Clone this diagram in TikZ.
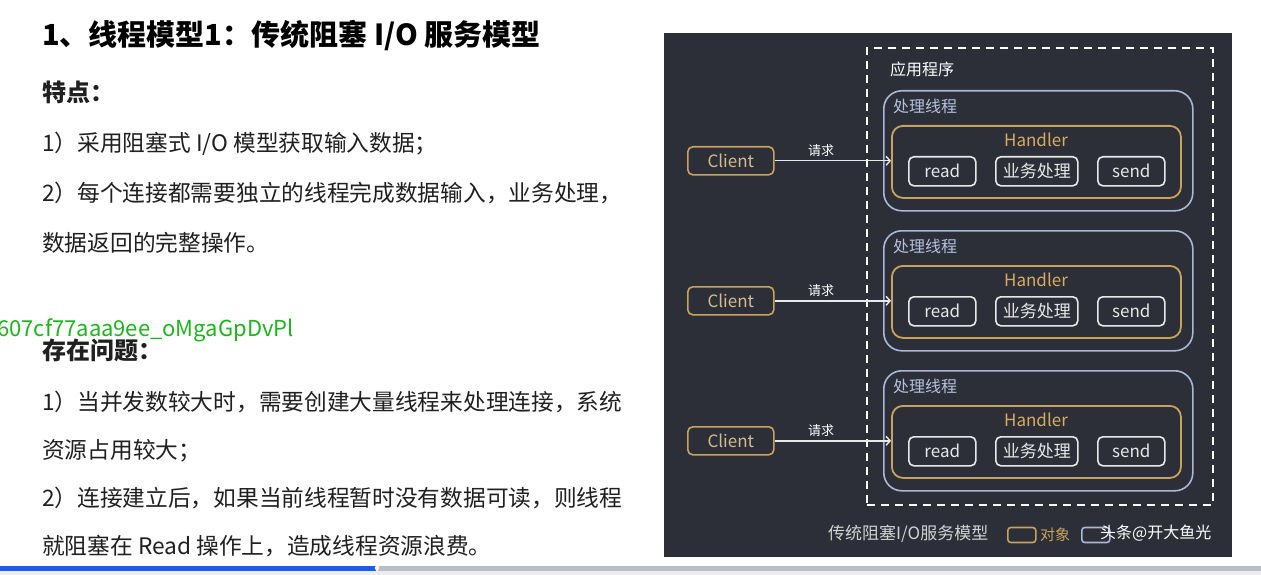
\documentclass[tikz,border=0pt]{standalone}
\usepackage{fontspec}
\setmainfont{Noto Sans CJK SC}
\usetikzlibrary{arrows.meta}

\definecolor{panelbg}{HTML}{2C2F37}
\definecolor{threadblue}{HTML}{A9B8D8}
\definecolor{threadtxt}{HTML}{B4C2E0}
\definecolor{objorange}{HTML}{C9A25E}
\definecolor{handlertxt}{HTML}{D9AA62}
\definecolor{clienttxt}{HTML}{D2BC8E}
\definecolor{boxwhite}{HTML}{E8E8E8}
\definecolor{legendtxt}{HTML}{D2D2D2}
\definecolor{bodyink}{HTML}{202020}
\definecolor{tagGreen}{HTML}{1FB41F}
\definecolor{barblue}{HTML}{1A5CF2}
\definecolor{bargray}{HTML}{B6BEC9}
\definecolor{barbase}{HTML}{ECECEC}

\newcommand\fsz[1]{\fontsize{#1}{#1}\selectfont}

\begin{document}
\begin{tikzpicture}[x=1pt,y=-1pt,
  bodytext/.style={anchor=base west, inner sep=0, text=bodyink, font=\fsz{22.7}},
  headtext/.style={bodytext, font=\fsz{24}\bfseries},
  titletext/.style={bodytext, text=black, font=\fsz{29}\bfseries},
  appbox/.style={draw=white, line width=1.8, dash pattern=on 8pt off 6pt,
    inner sep=0, anchor=north west},
  threadbox/.style={draw=threadblue, line width=1.6, rounded corners=18,
    inner sep=0, anchor=north west, minimum width=309, minimum height=120},
  handlerbox/.style={draw=objorange, line width=1.8, rounded corners=11,
    inner sep=0, anchor=north west, minimum width=289, minimum height=72},
  opbox/.style={draw=boxwhite, line width=1.6, rounded corners=5, text=boxwhite,
    font=\fsz{17}, minimum height=29, inner sep=0, anchor=north west},
  clientbox/.style={draw=objorange, line width=1.6, rounded corners=5,
    text=clienttxt, font=\fsz{17}, minimum width=86, minimum height=28,
    inner sep=0, anchor=north west},
  paneltext/.style={inner sep=0, anchor=west, font=\fsz{16}},
  request/.style={draw=boxwhite, line width=1.4,
    -{Straight Barb[length=4pt,width=9pt]}}
]
\useasboundingbox (0,0) rectangle (1261,575);
\fill[white] (0,0) rectangle (1261,575);

% ---- left column: notes ----
\node[titletext] (title) at (42,46) {1、线程模型1：传统阻塞 I/O 服务模型};
\node[headtext] (feat) at (42,102) {特点：};
\node[bodytext] (f1) at (42,151.5) {1）采用阻塞式 I/O 模型获取输入数据；};
\node[bodytext] (f2) at (42,201.5) {2）每个连接都需要独立的线程完成数据输入，业务处理，};
\node[bodytext] (f3) at (42,251.5) {数据返回的完整操作。};
\node[bodytext, text=tagGreen, font=\fsz{22}] (tag) at (-3,336) {607cf77aaa9ee\_oMgaGpDvPl};
\node[headtext] (prob) at (42,359) {存在问题：};
\node[bodytext] (p1) at (42,410.5) {1）当并发数较大时，需要创建大量线程来处理连接，系统};
\node[bodytext] (p2) at (42,458.5) {资源占用较大；};
\node[bodytext] (p3) at (42,506.5) {2）连接建立后，如果当前线程暂时没有数据可读，则线程};
\node[bodytext] (p4) at (42,554.5) {就阻塞在 Read 操作上，造成线程资源浪费。};

% ---- right column: model diagram ----
\fill[panelbg] (664,33) rectangle (1232,557);
\node[appbox, minimum width=346, minimum height=457] (app) at (866,47) {};
\node[paneltext, text=white] (applabel) at (890,69) {应用程序};

\foreach \i in {0,1,2} {
  \pgfmathsetmacro\dy{140*\i}
  \node[threadbox] (thread\i) at (883,90+\dy) {};
  \node[paneltext, text=threadtxt] (threadlabel\i) at (893,106+\dy) {处理线程};
  \node[handlerbox] (handler\i) at (891,125+\dy) {};
  \node[inner sep=0, text=handlertxt, font=\fsz{17}] (hlabel\i) at (1036,140+\dy) {Handler};
  \node[opbox, minimum width=67] (read\i) at (908,156+\dy) {read};
  \node[opbox, minimum width=82] (biz\i) at (995,156+\dy) {业务处理};
  \node[opbox, minimum width=67] (send\i) at (1097,156+\dy) {send};
  \node[clientbox] (client\i) at (687,146+\dy) {Client};
  \draw[request] (client\i.east) -- (client\i.east -| handler\i.west)
    node[pos=0.4, above=4pt, inner sep=0, text=white, font=\fsz{13}] {请求};
}

% legend
\node[inner sep=0, anchor=west, text=legendtxt, font=\fsz{17}] (legend) at (828,534) {传统阻塞I/O服务模型};
\node[draw=objorange, line width=1.6, rounded corners=3, inner sep=0,
  minimum width=28, minimum height=15, anchor=west] (keyobj) at (1007,535) {};
\node[inner sep=0, anchor=west, text=objorange, font=\fsz{15}] (keyobjtxt) at (1040,535) {对象};
\node[draw=threadblue, line width=1.6, rounded corners=3, inner sep=0,
  minimum width=28, minimum height=15, anchor=west] (keythread) at (1081,535) {};
\node[inner sep=0, anchor=west, text=white, font=\fsz{16}] (mark) at (1100,533) {头条@开大鱼光};

% ---- progress bar ----
\fill[barbase] (0,570.5) rectangle (1261,575);
\fill[barblue] (0,565.5) rectangle (376,570.5);
\fill[bargray] (378,565.5) rectangle (1261,570.5);
\fill[white] (377,568) circle (2.2);
\end{tikzpicture}
\end{document}
